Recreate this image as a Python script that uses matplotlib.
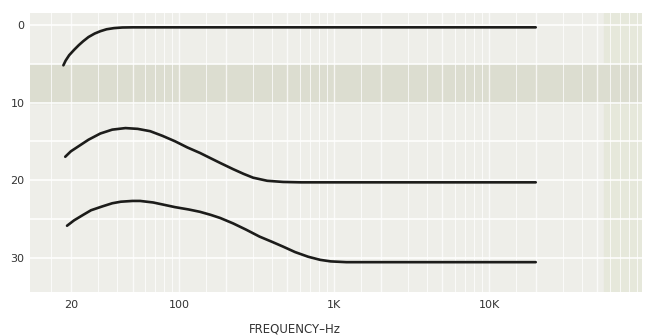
import matplotlib
matplotlib.use("Agg")
import matplotlib.pyplot as plt
import matplotlib.ticker as ticker

# curve data (frequency in Hz, attenuation in dB, downward)
freq_a = [17.9, 18.5, 19.5, 21, 22.5, 24, 26, 28.5, 31, 34, 38, 43, 50, 100, 1000, 20000]
db_a = [5.2, 4.6, 3.9, 3.2, 2.6, 2.1, 1.55, 1.1, 0.8, 0.55, 0.4, 0.32, 0.3, 0.3, 0.3, 0.3]

freq_b = [18.4, 20, 23, 26, 31, 37, 45, 54, 65, 78, 94, 113, 136, 160, 184, 223,
          260, 300, 370, 469, 612, 20000]
db_b = [17.0, 16.3, 15.5, 14.8, 14.0, 13.5, 13.3, 13.4, 13.7, 14.3, 15.0, 15.8,
        16.5, 17.2, 17.8, 18.6, 19.2, 19.7, 20.1, 20.25, 20.3, 20.3]

freq_c = [18.9, 21, 24, 27, 32, 37, 42, 50, 56, 68, 80, 94, 115, 136, 160, 184,
          223, 270, 330, 400, 469, 560, 680, 812, 950, 1200, 20000]
db_c = [25.9, 25.2, 24.5, 23.9, 23.4, 23.0, 22.8, 22.7, 22.7, 22.9, 23.2, 23.5,
        23.8, 24.1, 24.5, 24.9, 25.6, 26.4, 27.3, 28.0, 28.6, 29.3, 29.9, 30.3,
        30.5, 30.6, 30.6]

x_ticks = [20, 100, 1000, 10000]
x_labels = ["20", "100", "1K", "10K"]
y_ticks = [0, 10, 20, 30]

fig = plt.figure(figsize=(6.46, 3.36), dpi=100)
ax = fig.add_axes([30 / 646, 1 - 292 / 336, 612 / 646, 279 / 336])
ax.set_xscale("log")
ax.set_xlim(10.9, 97000)
ax.set_ylim(34.45, -1.55)
ax.set_facecolor("#eeeee9")

# paper tint, darker band and log-paper grid
ax.axvspan(55000, 97000, color="#e6e8db", zorder=0)
ax.axhspan(5, 10, color="#dcddd0", zorder=0)
for dec in [10, 100, 1000, 10000]:
    for m in [1, 1.5, 2, 3, 4, 5, 6, 7, 8, 9]:
        ax.axvline(dec * m, color="white", lw=1.0 if m in (1, 2, 5) else 0.7, alpha=0.75, zorder=1)
for h in range(0, 35, 5):
    ax.axhline(h, color="white", lw=1.3, alpha=0.85, zorder=1)

for f, d in [(freq_a, db_a), (freq_b, db_b), (freq_c, db_c)]:
    ax.plot(f, d, color="#1c1c1a", lw=1.9, solid_capstyle="round", solid_joinstyle="round", zorder=3)

ax.xaxis.set_major_locator(ticker.FixedLocator(x_ticks))
ax.xaxis.set_major_formatter(ticker.FixedFormatter(x_labels))
ax.xaxis.set_minor_locator(ticker.NullLocator())
ax.set_yticks(y_ticks)
ax.tick_params(length=0, labelsize=8, labelcolor="#333333")
ax.tick_params(axis="x", pad=6)
ax.tick_params(axis="y", pad=4)
for s in ax.spines.values():
    s.set_visible(False)

ax.set_xlabel("FREQUENCY–Hz", fontsize=8.5, color="#333333")
ax.xaxis.set_label_coords((295 - 30) / 612, -0.11)

fig.savefig("out.png", dpi=100)
